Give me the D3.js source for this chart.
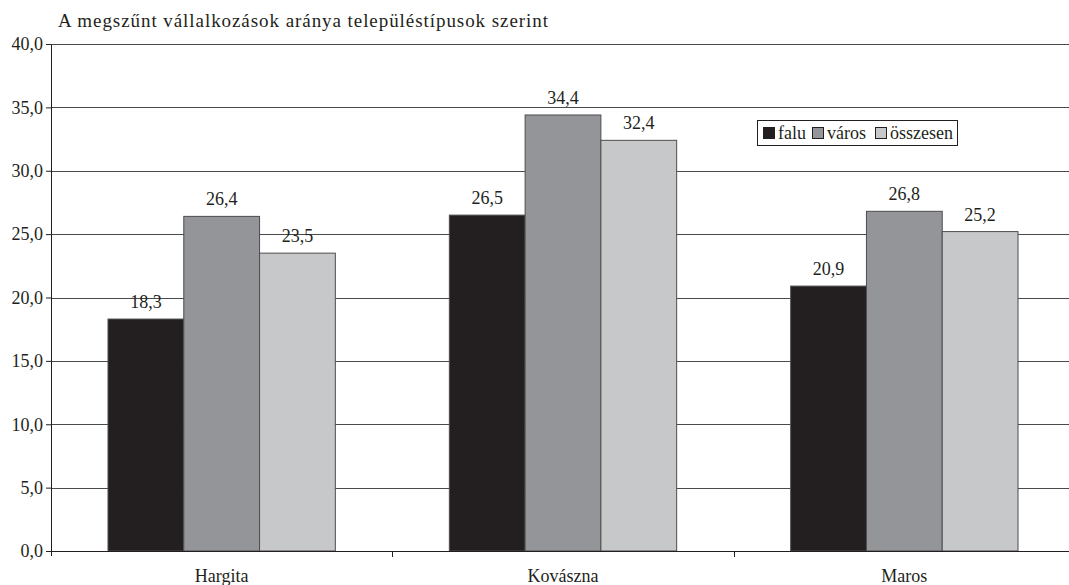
<!DOCTYPE html>
<html>
<head>
<meta charset="utf-8">
<script src="https://cdn.jsdelivr.net/npm/d3@7"></script>
<style>
  body { margin: 0; background: #fff; }
</style>
</head>
<body>
<svg id="chart" width="1069" height="585" font-family="'Liberation Serif', 'DejaVu Serif', serif" font-size="18"></svg>
<script>
// DATA
var categories = ["Hargita", "Kovászna", "Maros"];
var seriesNames = ["falu", "város", "összesen"];
var falu = [18.3, 26.5, 20.9];
var varos = [26.4, 34.4, 26.8];
var osszesen = [23.5, 32.4, 25.2];
var yTicks = [0, 5, 10, 15, 20, 25, 30, 35, 40];
var title = "A megszűnt vállalkozások aránya településtípusok szerint";

(function () {
  var svg = d3.select("#chart"),
    margin = { top: 44, right: -6, bottom: 34, left: 51 },
    width = 1069 - margin.left - margin.right,
    height = 585 - margin.top - margin.bottom;

  var FONT = "'Liberation Serif', 'DejaVu Serif', serif";
  var colors = ["#231f20", "#939598", "#c7c8ca"];
  var values = [falu, varos, osszesen];

  var x = d3.scaleBand().domain(categories).range([0, width]).paddingInner(0).paddingOuter(0);
  var x1 = d3.scaleBand().domain(seriesNames).range([57, x.bandwidth() - 57]);
  var y = d3.scaleLinear().domain([0, 40]).range([height, 0]);
  var fmt = function (v) { return d3.format(".1f")(v).replace(".", ","); };

  svg.append("text")
    .attr("x", 58).attr("y", 27)
    .attr("fill", "#231f20")
    .attr("font-size", 19)
    .attr("textLength", 490).attr("lengthAdjust", "spacing")
    .text(title);

  var g = svg.append("g")
    .attr("transform", "translate(" + margin.left + "," + margin.top + ")");

  // gridlines
  g.selectAll(".grid")
    .data(yTicks.slice(1))
    .enter().append("line")
    .attr("class", "grid")
    .attr("x1", 0).attr("x2", width)
    .attr("y1", function (d) { return Math.round(y(d)) + 0.5; })
    .attr("y2", function (d) { return Math.round(y(d)) + 0.5; })
    .attr("stroke", "#4a4a4a").attr("stroke-width", 1);

  // bars
  var groups = g.selectAll(".cat")
    .data(categories)
    .enter().append("g")
    .attr("class", "cat")
    .attr("transform", function (d) { return "translate(" + x(d) + ",0)"; });

  seriesNames.forEach(function (s, si) {
    groups.append("rect")
      .attr("x", x1(s))
      .attr("y", function (d, i) { return y(values[si][i]); })
      .attr("width", x1.bandwidth())
      .attr("height", function (d, i) { return height - y(values[si][i]); })
      .attr("fill", colors[si])
      .attr("stroke", "#4d4d4f").attr("stroke-width", 1);

    groups.append("text")
      .attr("x", x1(s) + x1.bandwidth() / 2)
      .attr("y", function (d, i) { return y(values[si][i]) - 11; })
      .attr("text-anchor", "middle")
      .attr("fill", "#231f20")
      .text(function (d, i) { return fmt(values[si][i]); });
  });

  // y axis
  var yAxis = g.append("g")
    .call(d3.axisLeft(y).tickValues(yTicks).tickSize(5).tickPadding(3).tickFormat(fmt))
    .attr("font-family", FONT).attr("font-size", 18);
  yAxis.selectAll("path, line").attr("stroke", "#231f20");
  yAxis.select(".domain").attr("d", "M0.5," + (height + 5) + "V0.5");
  yAxis.selectAll("text").attr("fill", "#231f20");

  // x axis
  var xAxisG = g.append("g").attr("transform", "translate(0," + height + ")");
  xAxisG.append("line")
    .attr("x1", 0).attr("x2", width)
    .attr("y1", 0.5).attr("y2", 0.5)
    .attr("stroke", "#231f20");
  xAxisG.selectAll(".xt")
    .data(categories.slice(1))
    .enter().append("line")
    .attr("x1", function (d) { return Math.round(x(d)) + 0.5; })
    .attr("x2", function (d) { return Math.round(x(d)) + 0.5; })
    .attr("y1", 0).attr("y2", 6)
    .attr("stroke", "#231f20");
  xAxisG.selectAll(".xl")
    .data(categories)
    .enter().append("text")
    .attr("x", function (d) { return x(d) + x.bandwidth() / 2; })
    .attr("y", 31)
    .attr("text-anchor", "middle")
    .attr("fill", "#231f20")
    .text(function (d) { return d; });

  // legend
  var lg = svg.append("g").attr("transform", "translate(757,120)").attr("font-size", 18);
  lg.append("rect")
    .attr("x", 0.5).attr("y", 0.5).attr("width", 200).attr("height", 25)
    .attr("fill", "#fff").attr("stroke", "#231f20");
  var lx = [6, 55, 118];
  seriesNames.forEach(function (s, i) {
    lg.append("rect")
      .attr("x", lx[i] + 0.5).attr("y", 7.5).attr("width", 11).attr("height", 11)
      .attr("fill", colors[i]).attr("stroke", "#231f20");
    lg.append("text")
      .attr("x", lx[i] + 15).attr("y", 18.5)
      .attr("fill", "#231f20")
      .text(s);
  });
})();
</script>
</body>
</html>
